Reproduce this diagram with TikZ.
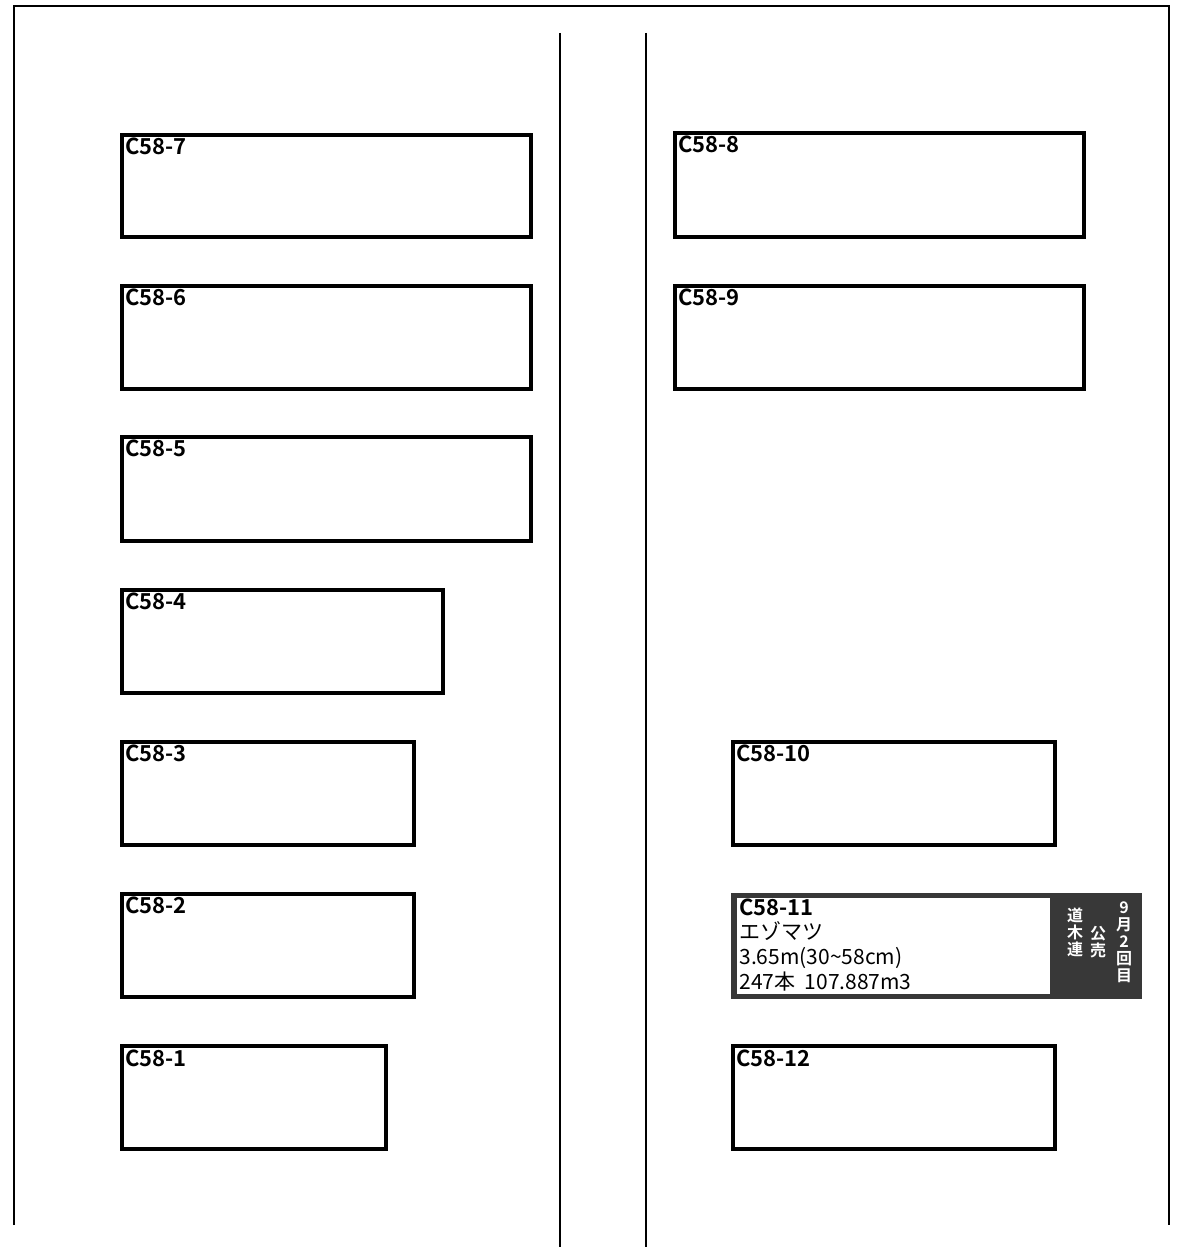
\documentclass[tikz,border=0pt]{standalone}
\usepackage{fontspec}
\setmainfont{Noto Sans CJK JP}[BoldFont={Noto Sans CJK JP Bold}]
\begin{document}
\begin{tikzpicture}[x=0.5pt,y=-0.5pt,
  frame/.style={line width=1pt,draw=black},
  midline/.style={line width=0.8pt,draw=black},
  lot/.style={draw=black,line width=2.2pt,fill=white},
  lbl/.style={anchor=north west,inner sep=0pt,font=\fontsize{11}{13}\selectfont\bfseries},
  info/.style={anchor=north west,inner sep=0pt,font=\fontsize{10.5}{12}\selectfont},
  vert/.style={anchor=north,inner sep=0pt,align=center,text=white,font=\fontsize{8}{8.6}\selectfont\bfseries}]
\useasboundingbox (0,0) rectangle (1192,1247);
\fill[white] (0,0) rectangle (1192,1247);
% frame
\draw[frame] (14,1225) -- (14,6) -- (1169,6) -- (1169,1225);
\draw[midline] (560,33) -- (560,1247);
\draw[midline] (646,33) -- (646,1247);
% left column
\draw[lot] (122,135) rectangle (531,237);
\node[lbl] (l7) at (125,138) {C58-7};
\draw[lot] (122,286) rectangle (531,389);
\node[lbl] (l6) at (125,289) {C58-6};
\draw[lot] (122,437) rectangle (531,541);
\node[lbl] (l5) at (125,440) {C58-5};
\draw[lot] (122,590) rectangle (443,693);
\node[lbl] (l4) at (125,593) {C58-4};
\draw[lot] (122,742) rectangle (414,845);
\node[lbl] (l3) at (125,745) {C58-3};
\draw[lot] (122,894) rectangle (414,997);
\node[lbl] (l2) at (125,897) {C58-2};
\draw[lot] (122,1046) rectangle (386,1149);
\node[lbl] (l1) at (125,1049) {C58-1};
% right column
\draw[lot] (675,133) rectangle (1084,237);
\node[lbl] (l8) at (678,136) {C58-8};
\draw[lot] (675,286) rectangle (1084,389);
\node[lbl] (l9) at (678,289) {C58-9};
\draw[lot] (733,742) rectangle (1055,845);
\node[lbl] (l10) at (736,745) {C58-10};
% C58-11 sold lot
\fill[black!78] (731,893) rectangle (1142,999);
\fill[white] (737,898) rectangle (1050,994);
\node[lbl] (l11) at (739,899) {C58-11};
\node[info] (s11) at (739,921) {エゾマツ};
\node[info] (d11) at (739,947) {3.65m(30\textasciitilde58cm)};
\node[info] (v11) at (739,971) {247本\ \ 107.887m3};
\node[vert] (c1) at (1124,901) {9\\月\\2\\回\\目};
\node[vert] (c2) at (1098,926) {公\\売};
\node[vert] (c3) at (1075,907) {道\\木\\連};
\draw[lot] (733,1046) rectangle (1055,1149);
\node[lbl] (l12) at (736,1049) {C58-12};
\end{tikzpicture}
\end{document}
